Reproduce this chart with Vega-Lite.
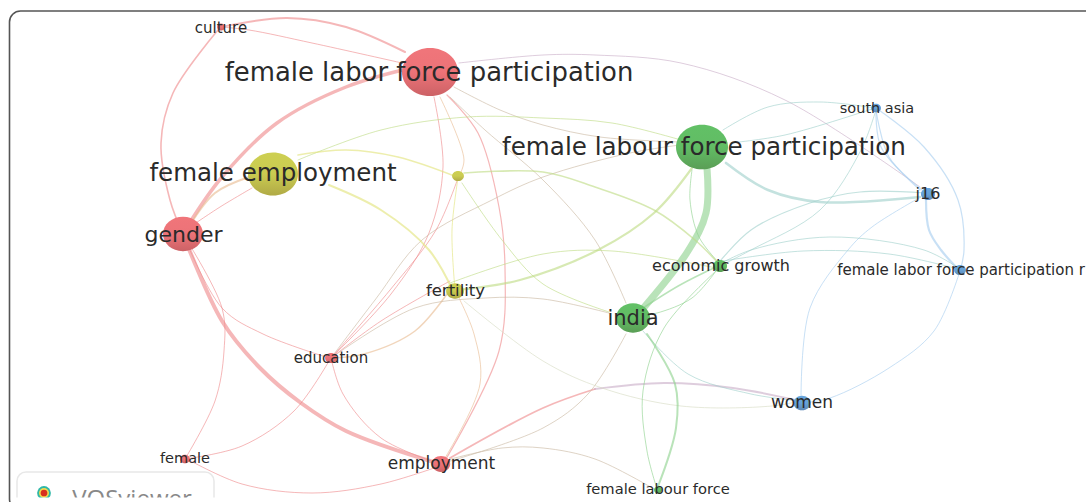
{"$schema":"https://vega.github.io/schema/vega-lite/v6.json","autosize":{"type":"fit","contains":"padding"},"width":1086,"height":502,"padding":0,"background":"white","view":{"stroke":null},
"datasets":{
"boxes":[{"b":"frame","x":9.5,"x2":1130,"y":11,"y2":510},{"b":"logo","x":17,"x2":214,"y":472,"y2":525}],
"cover":[{"x":12,"x2":300,"y":497.5,"y2":502}],
"edges":[
{"e":"a1","c":"red","w":2,"i":0,"x":221,"y":27},{"e":"a1","c":"red","w":2,"i":1,"x":287,"y":18},{"e":"a1","c":"red","w":2,"i":2,"x":346,"y":27},{"e":"a1","c":"red","w":2,"i":3,"x":405,"y":52},
{"e":"a2","c":"red","w":1,"i":0,"x":221,"y":27},{"e":"a2","c":"red","w":1,"i":1,"x":249,"y":30},{"e":"a2","c":"red","w":1,"i":2,"x":312,"y":43},{"e":"a2","c":"red","w":1,"i":3,"x":402,"y":63},
{"e":"a3","c":"red","w":1.6,"i":0,"x":218,"y":30},{"e":"a3","c":"red","w":1.6,"i":1,"x":173,"y":93},{"e":"a3","c":"red","w":1.6,"i":2,"x":161,"y":143},{"e":"a3","c":"red","w":1.6,"i":3,"x":170,"y":200},{"e":"a3","c":"red","w":1.6,"i":4,"x":183,"y":234},
{"e":"a4","c":"red","w":3.5,"i":0,"x":187,"y":227},{"e":"a4","c":"red","w":3.5,"i":1,"x":222,"y":177},{"e":"a4","c":"red","w":3.5,"i":2,"x":277,"y":123},{"e":"a4","c":"red","w":3.5,"i":3,"x":346,"y":87},{"e":"a4","c":"red","w":3.5,"i":4,"x":415,"y":67},
{"e":"a5","c":"red","w":4,"i":0,"x":183,"y":234},{"e":"a5","c":"red","w":4,"i":1,"x":222,"y":321},{"e":"a5","c":"red","w":4,"i":2,"x":260,"y":368},{"e":"a5","c":"red","w":4,"i":3,"x":301,"y":403},{"e":"a5","c":"red","w":4,"i":4,"x":346,"y":431},{"e":"a5","c":"red","w":4,"i":5,"x":440,"y":464},
{"e":"a6","c":"red","w":1,"i":0,"x":183,"y":234},{"e":"a6","c":"red","w":1,"i":1,"x":222,"y":308},{"e":"a6","c":"red","w":1,"i":2,"x":263,"y":334},{"e":"a6","c":"red","w":1,"i":3,"x":329,"y":358},
{"e":"a7","c":"red","w":1,"i":0,"x":183,"y":234},{"e":"a7","c":"red","w":1,"i":1,"x":222,"y":308},{"e":"a7","c":"red","w":1,"i":2,"x":224,"y":351},{"e":"a7","c":"red","w":1,"i":3,"x":215,"y":401},{"e":"a7","c":"red","w":1,"i":4,"x":185,"y":459},
{"e":"a8","c":"red","w":1,"i":0,"x":190,"y":227},{"e":"a8","c":"red","w":1,"i":1,"x":220,"y":207},{"e":"a8","c":"red","w":1,"i":2,"x":252,"y":188},
{"e":"a9","c":"redyellow","w":2,"i":0,"x":190,"y":225},{"e":"a9","c":"redyellow","w":2,"i":1,"x":215,"y":193},{"e":"a9","c":"redyellow","w":2,"i":2,"x":249,"y":177},
{"e":"b1","c":"red","w":1,"i":0,"x":185,"y":459},{"e":"b1","c":"red","w":1,"i":1,"x":242,"y":446},{"e":"b1","c":"red","w":1,"i":2,"x":294,"y":411},{"e":"b1","c":"red","w":1,"i":3,"x":329,"y":361},
{"e":"b2","c":"red","w":1,"i":0,"x":187,"y":459},{"e":"b2","c":"red","w":1,"i":1,"x":242,"y":484},{"e":"b2","c":"red","w":1,"i":2,"x":312,"y":493},{"e":"b2","c":"red","w":1,"i":3,"x":381,"y":484},{"e":"b2","c":"red","w":1,"i":4,"x":440,"y":466},
{"e":"b3","c":"red","w":1,"i":0,"x":331,"y":358},{"e":"b3","c":"red","w":1,"i":1,"x":343,"y":394},{"e":"b3","c":"red","w":1,"i":2,"x":381,"y":438},{"e":"b3","c":"red","w":1,"i":3,"x":440,"y":464},
{"e":"b4","c":"red","w":1.2,"i":0,"x":447,"y":95},{"e":"b4","c":"red","w":1.2,"i":1,"x":478,"y":133},{"e":"b4","c":"red","w":1.2,"i":2,"x":499,"y":207},{"e":"b4","c":"red","w":1.2,"i":3,"x":505,"y":268},{"e":"b4","c":"red","w":1.2,"i":4,"x":499,"y":351},{"e":"b4","c":"red","w":1.2,"i":5,"x":443,"y":464},
{"e":"b5","c":"red","w":1,"i":0,"x":434,"y":97},{"e":"b5","c":"red","w":1,"i":1,"x":443,"y":167},{"e":"b5","c":"red","w":1,"i":2,"x":429,"y":233},{"e":"b5","c":"red","w":1,"i":3,"x":391,"y":294},{"e":"b5","c":"red","w":1,"i":4,"x":331,"y":358},
{"e":"b6","c":"redyellow","w":1,"i":0,"x":440,"y":97},{"e":"b6","c":"redyellow","w":1,"i":1,"x":464,"y":160},{"e":"b6","c":"redyellow","w":1,"i":2,"x":458,"y":178},
{"e":"b7","c":"redgreen","w":1,"i":0,"x":450,"y":97},{"e":"b7","c":"redgreen","w":1,"i":1,"x":485,"y":130},{"e":"b7","c":"redgreen","w":1,"i":2,"x":543,"y":180},{"e":"b7","c":"redgreen","w":1,"i":3,"x":595,"y":240},{"e":"b7","c":"redgreen","w":1,"i":4,"x":626,"y":303},
{"e":"b8","c":"redblue","w":1,"i":0,"x":459,"y":63},{"e":"b8","c":"redblue","w":1,"i":1,"x":543,"y":55},{"e":"b8","c":"redblue","w":1,"i":2,"x":595,"y":55},{"e":"b8","c":"redblue","w":1,"i":3,"x":681,"y":63},{"e":"b8","c":"redblue","w":1,"i":4,"x":785,"y":100},{"e":"b8","c":"redblue","w":1,"i":5,"x":920,"y":187},
{"e":"b9","c":"redgreen","w":1,"i":0,"x":454,"y":87},{"e":"b9","c":"redgreen","w":1,"i":1,"x":500,"y":110},{"e":"b9","c":"redgreen","w":1,"i":2,"x":543,"y":125},{"e":"b9","c":"redgreen","w":1,"i":3,"x":600,"y":137},{"e":"b9","c":"redgreen","w":1,"i":4,"x":680,"y":142},
{"e":"c1","c":"yellowgreen","w":1,"i":0,"x":298,"y":160},{"e":"c1","c":"yellowgreen","w":1,"i":1,"x":381,"y":130},{"e":"c1","c":"yellowgreen","w":1,"i":2,"x":467,"y":117},{"e":"c1","c":"yellowgreen","w":1,"i":3,"x":543,"y":118},{"e":"c1","c":"yellowgreen","w":1,"i":4,"x":612,"y":123},{"e":"c1","c":"yellowgreen","w":1,"i":5,"x":681,"y":140},
{"e":"c2","c":"redyellow","w":1.5,"i":0,"x":331,"y":358},{"e":"c2","c":"redyellow","w":1.5,"i":1,"x":364,"y":354},{"e":"c2","c":"redyellow","w":1.5,"i":2,"x":415,"y":331},{"e":"c2","c":"redyellow","w":1.5,"i":3,"x":447,"y":294},
{"e":"c3","c":"redgreen","w":1,"i":0,"x":331,"y":358},{"e":"c3","c":"redgreen","w":1,"i":1,"x":415,"y":308},{"e":"c3","c":"redgreen","w":1,"i":2,"x":485,"y":298},{"e":"c3","c":"redgreen","w":1,"i":3,"x":543,"y":299},{"e":"c3","c":"redgreen","w":1,"i":4,"x":609,"y":313},
{"e":"c4","c":"redgreen","w":1,"i":0,"x":331,"y":358},{"e":"c4","c":"redgreen","w":1,"i":1,"x":375,"y":300},{"e":"c4","c":"redgreen","w":1,"i":2,"x":422,"y":240},{"e":"c4","c":"redgreen","w":1,"i":3,"x":492,"y":200},{"e":"c4","c":"redgreen","w":1,"i":4,"x":543,"y":177},{"e":"c4","c":"redgreen","w":1,"i":5,"x":630,"y":153},{"e":"c4","c":"redgreen","w":1,"i":6,"x":680,"y":145},
{"e":"c5","c":"red","w":1,"i":0,"x":331,"y":358},{"e":"c5","c":"red","w":1,"i":1,"x":390,"y":290},{"e":"c5","c":"red","w":1,"i":2,"x":436,"y":230},{"e":"c5","c":"red","w":1,"i":3,"x":458,"y":178},
{"e":"c6","c":"red","w":1,"i":0,"x":331,"y":358},{"e":"c6","c":"red","w":1,"i":1,"x":381,"y":321},{"e":"c6","c":"red","w":1,"i":2,"x":450,"y":281},
{"e":"c7","c":"redyellow","w":1,"i":0,"x":445,"y":458},{"e":"c7","c":"redyellow","w":1,"i":1,"x":480,"y":384},{"e":"c7","c":"redyellow","w":1,"i":2,"x":474,"y":334},{"e":"c7","c":"redyellow","w":1,"i":3,"x":457,"y":294},
{"e":"c8","c":"red","w":1.8,"i":0,"x":450,"y":458},{"e":"c8","c":"red","w":1.8,"i":1,"x":543,"y":408},{"e":"c8","c":"red","w":1.8,"i":2,"x":595,"y":389},
{"e":"c9","c":"redblue","w":2,"i":0,"x":595,"y":389},{"e":"c9","c":"redblue","w":2,"i":1,"x":664,"y":383},{"e":"c9","c":"redblue","w":2,"i":2,"x":733,"y":388},{"e":"c9","c":"redblue","w":2,"i":3,"x":800,"y":401},
{"e":"d1","c":"redgreen","w":1,"i":0,"x":447,"y":462},{"e":"d1","c":"redgreen","w":1,"i":1,"x":543,"y":428},{"e":"d1","c":"redgreen","w":1,"i":2,"x":588,"y":394},{"e":"d1","c":"redgreen","w":1,"i":3,"x":626,"y":334},
{"e":"d2","c":"redgreen","w":1,"i":0,"x":447,"y":460},{"e":"d2","c":"redgreen","w":1,"i":1,"x":502,"y":448},{"e":"d2","c":"redgreen","w":1,"i":2,"x":543,"y":448},{"e":"d2","c":"redgreen","w":1,"i":3,"x":595,"y":459},{"e":"d2","c":"redgreen","w":1,"i":4,"x":654,"y":489},
{"e":"e1","c":"green","w":7,"i":0,"x":707,"y":168},{"e":"e1","c":"green","w":7,"i":1,"x":706,"y":213},{"e":"e1","c":"green","w":7,"i":2,"x":688,"y":251},{"e":"e1","c":"green","w":7,"i":3,"x":640,"y":312},
{"e":"e2","c":"yellowgreen","w":2.2,"i":0,"x":692,"y":168},{"e":"e2","c":"yellowgreen","w":2.2,"i":1,"x":654,"y":213},{"e":"e2","c":"yellowgreen","w":2.2,"i":2,"x":598,"y":250},{"e":"e2","c":"yellowgreen","w":2.2,"i":3,"x":520,"y":280},{"e":"e2","c":"yellowgreen","w":2.2,"i":4,"x":457,"y":290},
{"e":"e3","c":"green","w":1,"i":0,"x":692,"y":170},{"e":"e3","c":"green","w":1,"i":1,"x":690,"y":200},{"e":"e3","c":"green","w":1,"i":2,"x":699,"y":237},{"e":"e3","c":"green","w":1,"i":3,"x":720,"y":264},
{"e":"e4","c":"green","w":1,"i":0,"x":716,"y":271},{"e":"e4","c":"green","w":1,"i":1,"x":692,"y":298},{"e":"e4","c":"green","w":1,"i":2,"x":657,"y":313},{"e":"e4","c":"green","w":1,"i":3,"x":642,"y":315},
{"e":"e5","c":"green","w":1.5,"i":0,"x":640,"y":310},{"e":"e5","c":"green","w":1.5,"i":1,"x":680,"y":285},{"e":"e5","c":"green","w":1.5,"i":2,"x":718,"y":266},
{"e":"f1","c":"yellow","w":1.6,"i":0,"x":298,"y":155},{"e":"f1","c":"yellow","w":1.6,"i":1,"x":346,"y":150},{"e":"f1","c":"yellow","w":1.6,"i":2,"x":398,"y":157},{"e":"f1","c":"yellow","w":1.6,"i":3,"x":457,"y":177},
{"e":"f2","c":"yellow","w":2,"i":0,"x":329,"y":185},{"e":"f2","c":"yellow","w":2,"i":1,"x":381,"y":210},{"e":"f2","c":"yellow","w":2,"i":2,"x":429,"y":250},{"e":"f2","c":"yellow","w":2,"i":3,"x":453,"y":291},
{"e":"f3","c":"yellowgreen","w":1.6,"i":0,"x":464,"y":173},{"e":"f3","c":"yellowgreen","w":1.6,"i":1,"x":543,"y":172},{"e":"f3","c":"yellowgreen","w":1.6,"i":2,"x":595,"y":187},{"e":"f3","c":"yellowgreen","w":1.6,"i":3,"x":654,"y":210},{"e":"f3","c":"yellowgreen","w":1.6,"i":4,"x":695,"y":240},{"e":"f3","c":"yellowgreen","w":1.6,"i":5,"x":720,"y":265},
{"e":"f4","c":"yellow","w":1,"i":0,"x":458,"y":178},{"e":"f4","c":"yellow","w":1,"i":1,"x":452,"y":230},{"e":"f4","c":"yellow","w":1,"i":2,"x":455,"y":290},
{"e":"f5","c":"yellowgreen","w":1,"i":0,"x":462,"y":183},{"e":"f5","c":"yellowgreen","w":1,"i":1,"x":502,"y":240},{"e":"f5","c":"yellowgreen","w":1,"i":2,"x":543,"y":284},{"e":"f5","c":"yellowgreen","w":1,"i":3,"x":609,"y":312},
{"e":"f6","c":"yellowgreen","w":1,"i":0,"x":450,"y":283},{"e":"f6","c":"yellowgreen","w":1,"i":1,"x":543,"y":254},{"e":"f6","c":"yellowgreen","w":1,"i":2,"x":612,"y":251},{"e":"f6","c":"yellowgreen","w":1,"i":3,"x":716,"y":268},
{"e":"f7","c":"yellowblue","w":1,"i":0,"x":464,"y":301},{"e":"f7","c":"yellowblue","w":1,"i":1,"x":543,"y":361},{"e":"f7","c":"yellowblue","w":1,"i":2,"x":602,"y":388},{"e":"f7","c":"yellowblue","w":1,"i":3,"x":681,"y":406},{"e":"f7","c":"yellowblue","w":1,"i":4,"x":772,"y":406},{"e":"f7","c":"yellowblue","w":1,"i":5,"x":800,"y":401},
{"e":"g1","c":"greenblue","w":1,"i":0,"x":643,"y":331},{"e":"g1","c":"greenblue","w":1,"i":1,"x":688,"y":374},{"e":"g1","c":"greenblue","w":1,"i":2,"x":751,"y":394},{"e":"g1","c":"greenblue","w":1,"i":3,"x":800,"y":401},
{"e":"g2","c":"green","w":2,"i":0,"x":647,"y":334},{"e":"g2","c":"green","w":2,"i":1,"x":675,"y":384},{"e":"g2","c":"green","w":2,"i":2,"x":676,"y":428},{"e":"g2","c":"green","w":2,"i":3,"x":657,"y":489},
{"e":"g3","c":"green","w":1,"i":0,"x":716,"y":271},{"e":"g3","c":"green","w":1,"i":1,"x":664,"y":328},{"e":"g3","c":"green","w":1,"i":2,"x":643,"y":391},{"e":"g3","c":"green","w":1,"i":3,"x":647,"y":451},{"e":"g3","c":"green","w":1,"i":4,"x":657,"y":489},
{"e":"g4","c":"greenblue","w":1.2,"i":0,"x":716,"y":266},{"e":"g4","c":"greenblue","w":1.2,"i":1,"x":751,"y":230},{"e":"g4","c":"greenblue","w":1.2,"i":2,"x":810,"y":203},{"e":"g4","c":"greenblue","w":1.2,"i":3,"x":860,"y":192},{"e":"g4","c":"greenblue","w":1.2,"i":4,"x":925,"y":193},
{"e":"g5","c":"greenblue","w":1,"i":0,"x":716,"y":268},{"e":"g5","c":"greenblue","w":1,"i":1,"x":751,"y":250},{"e":"g5","c":"greenblue","w":1,"i":2,"x":820,"y":210},{"e":"g5","c":"greenblue","w":1,"i":3,"x":861,"y":150},{"e":"g5","c":"greenblue","w":1,"i":4,"x":875,"y":113},
{"e":"g6","c":"greenblue","w":2.6,"i":0,"x":726,"y":163},{"e":"g6","c":"greenblue","w":2.6,"i":1,"x":768,"y":190},{"e":"g6","c":"greenblue","w":2.6,"i":2,"x":820,"y":202},{"e":"g6","c":"greenblue","w":2.6,"i":3,"x":920,"y":197},
{"e":"g7","c":"greenblue","w":1,"i":0,"x":723,"y":130},{"e":"g7","c":"greenblue","w":1,"i":1,"x":768,"y":107},{"e":"g7","c":"greenblue","w":1,"i":2,"x":820,"y":102},{"e":"g7","c":"greenblue","w":1,"i":3,"x":875,"y":108},
{"e":"g8","c":"greenblue","w":1,"i":0,"x":730,"y":143},{"e":"g8","c":"greenblue","w":1,"i":1,"x":785,"y":135},{"e":"g8","c":"greenblue","w":1,"i":2,"x":875,"y":108},
{"e":"h1","c":"blue","w":1.2,"i":0,"x":876,"y":108},{"e":"h1","c":"blue","w":1.2,"i":1,"x":924,"y":147},{"e":"h1","c":"blue","w":1.2,"i":2,"x":958,"y":200},{"e":"h1","c":"blue","w":1.2,"i":3,"x":964,"y":250},{"e":"h1","c":"blue","w":1.2,"i":4,"x":960,"y":271},
{"e":"h2","c":"blue","w":1.2,"i":0,"x":876,"y":110},{"e":"h2","c":"blue","w":1.2,"i":1,"x":881,"y":147},{"e":"h2","c":"blue","w":1.2,"i":2,"x":920,"y":190},
{"e":"h3","c":"blue","w":1.2,"i":0,"x":876,"y":110},{"e":"h3","c":"blue","w":1.2,"i":1,"x":889,"y":157},{"e":"h3","c":"blue","w":1.2,"i":2,"x":922,"y":190},
{"e":"h4","c":"blue","w":2.2,"i":0,"x":926,"y":200},{"e":"h4","c":"blue","w":2.2,"i":1,"x":929,"y":230},{"e":"h4","c":"blue","w":2.2,"i":2,"x":941,"y":250},{"e":"h4","c":"blue","w":2.2,"i":3,"x":960,"y":271},
{"e":"h5","c":"blue","w":1,"i":0,"x":919,"y":198},{"e":"h5","c":"blue","w":1,"i":1,"x":872,"y":227},{"e":"h5","c":"blue","w":1,"i":2,"x":848,"y":250},{"e":"h5","c":"blue","w":1,"i":3,"x":810,"y":308},{"e":"h5","c":"blue","w":1,"i":4,"x":801,"y":398},
{"e":"h6","c":"blue","w":1,"i":0,"x":960,"y":271},{"e":"h6","c":"blue","w":1,"i":1,"x":934,"y":331},{"e":"h6","c":"blue","w":1,"i":2,"x":889,"y":368},{"e":"h6","c":"blue","w":1,"i":3,"x":830,"y":398},{"e":"h6","c":"blue","w":1,"i":4,"x":802,"y":403},
{"e":"h7","c":"greenblue","w":1,"i":0,"x":716,"y":266},{"e":"h7","c":"greenblue","w":1,"i":1,"x":751,"y":250},{"e":"h7","c":"greenblue","w":1,"i":2,"x":830,"y":237},{"e":"h7","c":"greenblue","w":1,"i":3,"x":924,"y":250},{"e":"h7","c":"greenblue","w":1,"i":4,"x":960,"y":269},
{"e":"h8","c":"greenblue","w":1,"i":0,"x":723,"y":261},{"e":"h8","c":"greenblue","w":1,"i":1,"x":803,"y":251},{"e":"h8","c":"greenblue","w":1,"i":2,"x":889,"y":254},{"e":"h8","c":"greenblue","w":1,"i":3,"x":958,"y":269}
],
"nodes":[
{"n":"culture","c":"red","occ":0.64,"x":221,"y":27},{"n":"flfp","c":"red","occ":31.4,"x":430,"y":72},{"n":"gender","c":"red","occ":16,"x":183,"y":234},{"n":"education","c":"red","occ":1.4,"x":331,"y":358},{"n":"employment","c":"red","occ":3.4,"x":441,"y":464},{"n":"female","c":"red","occ":1,"x":185,"y":459},
{"n":"female employment","c":"yellow","occ":25,"x":273,"y":174},{"n":"dot","c":"yellow","occ":1.4,"x":458,"y":176},{"n":"fertility","c":"yellow","occ":3.2,"x":455,"y":291},
{"n":"flabfp","c":"green","occ":27,"x":702,"y":147},{"n":"economic growth","c":"green","occ":2,"x":720,"y":266},{"n":"india","c":"green","occ":11.6,"x":633,"y":318},{"n":"female labour force","c":"green","occ":0.64,"x":658,"y":490},
{"n":"south asia","c":"blue","occ":1,"x":876,"y":108},{"n":"j16","c":"blue","occ":2,"x":928,"y":194},{"n":"rate","c":"blue","occ":1.4,"x":960,"y":270},{"n":"women","c":"blue","occ":2.9,"x":802,"y":403}
],
"labels":[
{"t":"culture","s":15,"x":221,"y":27.5},{"t":"female labor force participation","s":25.9,"x":429,"y":72.5},{"t":"female employment","s":24.5,"x":273,"y":174},{"t":"gender","s":22,"x":183.5,"y":234.5},{"t":"female labour force participation","s":24.6,"x":704,"y":148},{"t":"south asia","s":14.5,"x":877,"y":108.5},{"t":"j16","s":16,"x":928,"y":194},{"t":"economic growth","s":16,"x":721,"y":265.5},{"t":"female labor force participation r","s":15,"x":961,"y":270},{"t":"fertility","s":16.5,"x":455.5,"y":290.5},{"t":"india","s":21,"x":633,"y":318.5},{"t":"education","s":15,"x":331,"y":358},{"t":"women","s":17,"x":802,"y":403},{"t":"employment","s":17,"x":441.5,"y":463.5},{"t":"female","s":14.5,"x":185,"y":458.5},{"t":"female labour force","s":14.7,"x":658,"y":490}
],
"brand":[{"t":"VOSviewer","x":132,"y":507,"lx":44,"ly":493}]
},
"layer":[
{"data":{"name":"boxes"},"transform":[{"filter":"datum.b==='frame'"}],"mark":{"type":"rect","clip":true,"fill":"white","stroke":"#555555","strokeWidth":1.6,"cornerRadius":11},"encoding":{"x":{"field":"x","type":"quantitative","scale":{"domain":[0,1086],"nice":false,"zero":false},"axis":null},"x2":{"field":"x2"},"y":{"field":"y","type":"quantitative","scale":{"domain":[502,0],"nice":false,"zero":false},"axis":null},"y2":{"field":"y2"}}},
{"data":{"name":"boxes"},"transform":[{"filter":"datum.b==='logo'"}],"mark":{"type":"rect","clip":true,"fill":"white","stroke":"#e8e8e8","strokeWidth":1.5,"cornerRadius":9},"encoding":{"x":{"field":"x","type":"quantitative","axis":null},"x2":{"field":"x2"},"y":{"field":"y","type":"quantitative","axis":null},"y2":{"field":"y2"}}},
{"data":{"name":"edges"},"mark":{"type":"line","interpolate":"catmull-rom","opacity":0.62,"strokeCap":"round"},"encoding":{"x":{"field":"x","type":"quantitative","axis":null},"y":{"field":"y","type":"quantitative","axis":null},"order":{"field":"i","type":"ordinal"},"detail":{"field":"e","type":"nominal"},"stroke":{"field":"c","type":"nominal","legend":null,"scale":{"domain":["red","green","yellow","blue","redyellow","redgreen","redblue","yellowgreen","yellowblue","greenblue"],"range":["#ef8a8c","#8ed28e","#e2e37a","#a6cdef","#e8bb92","#c9b8a2","#c9aec8","#bfdc84","#d7dcc4","#a0d0cc"]}},"strokeWidth":{"field":"w","type":"quantitative","legend":null,"scale":{"domain":[0,10],"range":[0,10]}}}},
{"data":{"name":"nodes"},"mark":{"type":"point","filled":true,"opacity":1,"shape":"M-1,0A1,0.86,0,1,1,1,0A1,0.86,0,1,1,-1,0Z"},"encoding":{"x":{"field":"x","type":"quantitative","axis":null},"y":{"field":"y","type":"quantitative","axis":null},"fill":{"field":"c","type":"nominal","legend":null,"scale":{"domain":["red","green","yellow","blue"],"range":["#f0757a","#62c066","#cdcf52","#67a5dc"]}},"size":{"field":"occ","type":"quantitative","legend":null,"scale":{"domain":[0,40],"range":[0,4000]}}}},
{"data":{"name":"nodes"},"mark":{"type":"point","filled":true,"opacity":1,"shape":"M-1,0A1,0.86,0,1,1,1,0A1,0.86,0,1,1,-1,0Z","fill":{"gradient":"linear","x1":0,"y1":0,"x2":0,"y2":1,"stops":[{"offset":0,"color":"rgba(60,20,20,0)"},{"offset":0.5,"color":"rgba(60,20,20,0.02)"},{"offset":1,"color":"rgba(60,20,20,0.2)"}]}},"encoding":{"x":{"field":"x","type":"quantitative","axis":null},"y":{"field":"y","type":"quantitative","axis":null},"size":{"field":"occ","type":"quantitative","legend":null,"scale":{"domain":[0,40],"range":[0,4000]}}}},
{"data":{"name":"labels"},"mark":{"type":"text","font":"DejaVu Sans","align":"center","baseline":"middle","fill":"#2a2a2a"},"encoding":{"x":{"field":"x","type":"quantitative","axis":null},"y":{"field":"y","type":"quantitative","axis":null},"text":{"field":"t"},"size":{"field":"s","type":"quantitative","legend":null,"scale":{"domain":[0,30],"range":[0,30]}}}},
{"data":{"name":"brand"},"mark":{"type":"text","clip":true,"font":"Open Sans","fontSize":24,"align":"center","baseline":"alphabetic","fill":"#888888"},"encoding":{"x":{"field":"x","type":"quantitative","axis":null},"y":{"field":"y","type":"quantitative","axis":null},"text":{"field":"t"}}},
{"data":{"name":"brand"},"mark":{"type":"point","filled":true,"opacity":1,"size":190,"fill":"#2fb8a8"},"encoding":{"x":{"field":"lx","type":"quantitative","axis":null},"y":{"field":"ly","type":"quantitative","axis":null}}},
{"data":{"name":"brand"},"mark":{"type":"point","filled":true,"opacity":1,"size":100,"fill":"#f2d94e"},"encoding":{"x":{"field":"lx","type":"quantitative","axis":null},"y":{"field":"ly","type":"quantitative","axis":null}}},
{"data":{"name":"brand"},"mark":{"type":"point","filled":true,"opacity":1,"size":45,"fill":"#d8301f"},"encoding":{"x":{"field":"lx","type":"quantitative","axis":null},"y":{"field":"ly","type":"quantitative","axis":null}}},
{"data":{"name":"cover"},"mark":{"type":"rect","fill":"white"},"encoding":{"x":{"field":"x","type":"quantitative","axis":null},"x2":{"field":"x2"},"y":{"field":"y","type":"quantitative","axis":null},"y2":{"field":"y2"}}}
],
"resolve":{"scale":{"size":"independent"}}
}
